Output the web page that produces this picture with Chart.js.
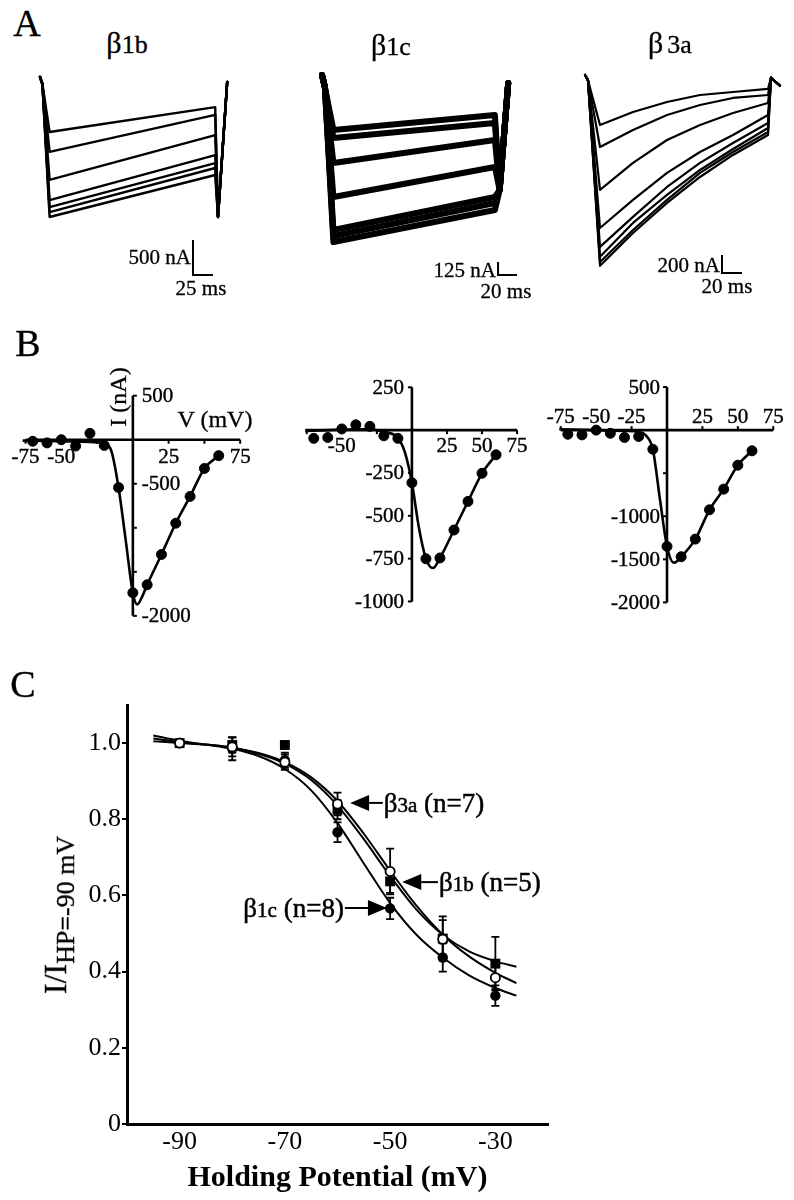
<!DOCTYPE html>
<html>
<head>
<meta charset="utf-8">
<script src="https://cdn.jsdelivr.net/npm/chart.js@4.4.1/dist/chart.umd.min.js"></script>
<style>
  html,body{margin:0;padding:0;background:#fff;}
  #page{position:relative;width:794px;height:1200px;overflow:hidden;background:#fff;font-family:"Liberation Serif","Times New Roman",serif;color:#000;}
  #page canvas{position:absolute;}
  .lbl{position:absolute;white-space:nowrap;line-height:1;transform:translate(-50%,-50%);-webkit-text-stroke:0.3px #000;}
  .lblR{position:absolute;white-space:nowrap;line-height:1;transform:translate(-100%,-50%);-webkit-text-stroke:0.3px #000;}
</style>
</head>
<body>
<div id="page">
  <canvas id="a1" style="left:20px;top:60px" width="220" height="240"></canvas>
  <canvas id="a2" style="left:300px;top:60px" width="230" height="240"></canvas>
  <canvas id="a3" style="left:560px;top:60px" width="230" height="240"></canvas>
  <canvas id="b1" style="left:0px;top:360px" width="260" height="280"></canvas>
  <canvas id="b2" style="left:280px;top:360px" width="260" height="280"></canvas>
  <canvas id="b3" style="left:540px;top:360px" width="254" height="280"></canvas>
  <canvas id="c1" style="left:0px;top:680px" width="590" height="520"></canvas>

  <div class="lbl" style="left:27px;top:23px;font-size:38px">A</div>
  <div class="lbl" style="left:28px;top:343px;font-size:38px">B</div>
  <div class="lbl" style="left:23px;top:684px;font-size:38px">C</div>

  <div class="lbl" style="left:127px;top:43px;font-size:30px">β<span style="font-size:26px">1b</span></div>
  <div class="lbl" style="left:391px;top:45px;font-size:30px">β<span style="font-size:26px">1c</span></div>
  <div class="lbl" style="left:670px;top:43px;font-size:30px">β<span style="font-size:26px;margin-left:4px">3a</span></div>

  <div class="lblR" style="left:191px;top:257px;font-size:21px">500 nA</div>
  <div class="lbl" style="left:201px;top:288px;font-size:21px">25 ms</div>
  <div class="lblR" style="left:496px;top:270px;font-size:21px">125 nA</div>
  <div class="lbl" style="left:506px;top:291px;font-size:21px">20 ms</div>
  <div class="lblR" style="left:720px;top:265px;font-size:21px">200 nA</div>
  <div class="lbl" style="left:727px;top:286px;font-size:21px">20 ms</div>

  <div class="lbl" style="left:118px;top:397px;font-size:24px;transform:translate(-50%,-50%) rotate(-90deg)">I (nA)</div>
  <div class="lbl" style="left:215px;top:419px;font-size:24px">V (mV)</div>

  <div class="lbl" style="left:55px;top:915px;font-size:32px;transform:translate(-50%,-50%) rotate(-90deg)">I/I<span style="font-size:26px;position:relative;top:0.3em">HP=-90 mV</span></div>
</div>

<script>
// ================= DATA =================
// Panel A: current traces (time in ms, current in nA)
const tA1 = [0, 3, 12, 219, 222.5, 234];                 // beta1b
const iA1 = [
  [0, -100, -786, -430, -2000, -70],
  [0, -100, -1070, -540, -2000, -70],
  [0, -100, -1470, -830, -2000, -70],
  [0, -100, -1760, -1115, -2000, -70],
  [0, -100, -1860, -1230, -2000, -70],
  [0, -100, -1930, -1300, -2000, -70],
  [0, -100, -2000, -1400, -2000, -70]
];
const tA2 = [0, 3, 12, 182, 187, 196];                   // beta1c
const iA2 = [
  [48, -67, -480, -336, -1058, -29],
  [48, -67, -557, -413, -1058, -29],
  [48, -67, -798, -577, -1058, -29],
  [48, -67, -1125, -836, -1058, -29],
  [48, -67, -1442, -1125, -1058, -29],
  [48, -67, -1500, -1183, -1058, -29],
  [48, -67, -1558, -1250, -1058, -29]
];
const tA3 = [0, 3, 15, 48, 82, 115, 148, 183, 186, 195]; // beta3a
const iA3 = [
  [0, -60, -555, -411, -300, -222, -189, -155, -30, -120],
  [0, -60, -800, -611, -444, -333, -255, -222, -30, -120],
  [0, -60, -1277, -977, -722, -555, -422, -311, -30, -120],
  [0, -60, -1700, -1388, -1088, -855, -666, -444, -30, -120],
  [0, -60, -1910, -1577, -1244, -977, -755, -533, -30, -120],
  [0, -60, -2020, -1644, -1333, -1055, -822, -589, -30, -120],
  [0, -60, -2077, -1722, -1388, -1088, -855, -633, -30, -120],
  [0, -60, -2120, -1755, -1422, -1133, -888, -666, -30, -120]
];
const scaleBarNA = [500, 125, 200];   // nA
const scaleBarMS = [25, 20, 20];      // ms

// Panel B: I-V relations (mV, nA)
const ivV = [-70, -60, -50, -40, -30, -20, -10, 0, 10, 20, 30, 40, 50, 60];
const ivB1b = [-18, -36, 0, -72, 72, -65, -543, -1738, -1647, -1303, -948, -644, -326, -181];
const ivB1c = [-48, -43, 7, 31, 22, -33, -48, -307, -751, -746, -583, -416, -252, -144];
const ivB3a = [-48, -55, 0, -37, -85, -74, -222, -1350, -1470, -1265, -925, -685, -407, -240];
const fitB1bV = [-77, -60, -40, -25, -20, -15, -10, -5, 0, 3, 6, 10, 20, 30, 40, 50, 60];
const fitB1bI = [-10, -15, -20, -30, -40, -130, -543, -1140, -1740, -1870, -1800, -1647, -1303, -948, -644, -326, -181];
const fitB1cV = [-76, -60, -40, -30, -20, -10, -5, 0, 5, 10, 15, 20, 30, 40, 50, 60];
const fitB1cI = [-5, 0, 5, 5, -10, -45, -130, -307, -570, -750, -805, -746, -583, -416, -252, -144];
const fitB3aV = [-76, -50, -30, -20, -15, -10, -5, 0, 5, 10, 20, 30, 40, 50, 60];
const fitB3aI = [10, 0, -10, -20, -60, -222, -800, -1350, -1540, -1470, -1265, -925, -685, -407, -240];
const b1XTicks = [-75, -50, -25, 25, 50, 75], b1XLabels = [-75, -50, 25, 75];
const b1YTicks = [500, -500, -1000, -1500, -2000], b1YLabels = [500, -500, -2000];
const b2XTicks = [-75, -50, -25, 25, 50, 75], b2XLabels = [-50, 25, 50, 75];
const b2YTicks = [250, -250, -500, -750, -1000], b2YLabels = [250, -250, -500, -750, -1000];
const b3XTicks = [-75, -50, -25, 25, 50, 75], b3XLabels = [-75, -50, -25, 25, 50, 75];
const b3YTicks = [500, -500, -1000, -1500, -2000], b3YLabels = [500, -1000, -1500, -2000];

// Panel C: steady-state inactivation
const hpV = [-90, -80, -70, -60, -50, -40, -30];
const hpB1b = [1.0, 0.99, 0.95, 0.84, 0.663, 0.485, 0.384];
const errB1b = [0.005, 0.025, 0.02, 0.03, 0.06, 0.05, 0.03];
const hpB3a = [1.0, 0.995, 0.995, 0.825, 0.637, 0.487, 0.421];
const errB3a = [0.005, 0.02, 0.005, 0.025, 0.03, 0.058, 0.07];
const hpB1c = [1.0, 0.985, 0.955, 0.766, 0.566, 0.437, 0.337];
const errB1c = [0.005, 0.03, 0.02, 0.026, 0.028, 0.037, 0.027];
const fitV = [-95, -90, -85, -80, -75, -70, -65, -60, -55, -50, -45, -40, -35, -30, -26];
const fitB1b = [1.005, 1.0, 0.996, 0.988, 0.974, 0.95, 0.91, 0.848, 0.762, 0.665, 0.573, 0.497, 0.44, 0.397, 0.37];
const fitB3a = [1.012, 1.003, 0.996, 0.988, 0.972, 0.946, 0.903, 0.836, 0.748, 0.651, 0.563, 0.497, 0.453, 0.427, 0.413];
const fitB1c = [1.02, 1.006, 0.996, 0.985, 0.966, 0.932, 0.876, 0.79, 0.684, 0.58, 0.497, 0.437, 0.39, 0.357, 0.337];
const cXTicks = [-90, -70, -50, -30];
const cYTicks = [0, 0.2, 0.4, 0.6, 0.8, 1.0];

// ================= RENDER =================
const FONT = '"Liberation Serif", "Times New Roman", serif';
Chart.defaults.font.family = FONT;
Chart.defaults.color = '#000';
const pts = (xs, ys) => xs.map((v, i) => ({x: v, y: ys[i]}));

function baseOpts(xr, yr) {
  return {
    responsive: false, animation: false, events: [],
    layout: {padding: 0},
    plugins: {legend: {display: false}, tooltip: {enabled: false}},
    scales: {
      x: {type: 'linear', display: false, min: xr[0], max: xr[1]},
      y: {type: 'linear', display: false, min: yr[0], max: yr[1]}
    }
  };
}

function traceChart(id, tArr, traces, lw, xr, yr, bar) {
  const ds = traces.map(tr => ({
    data: pts(tArr, tr), borderColor: '#000', borderWidth: lw, pointRadius: 0,
    fill: false, tension: 0, borderJoinStyle: 'round', borderCapStyle: 'round'
  }));
  ds.push({
    data: [{x: bar.t, y: bar.i + bar.nA}, {x: bar.t, y: bar.i}, {x: bar.t + bar.ms, y: bar.i}],
    borderColor: '#000', borderWidth: 2, pointRadius: 0, fill: false, tension: 0
  });
  new Chart(document.getElementById(id), {type: 'line', data: {datasets: ds}, options: baseOpts(xr, yr)});
}

traceChart('a1', tA1, iA1, 2.4, [-25, 250], [-3186, 243], {t: 191.25, i: -2829, nA: scaleBarNA[0], ms: scaleBarMS[0]});
traceChart('a2', tA2, iA2, 6, [-23.16, 218.95], [-2115.4, 192.3], {t: 185.3, i: -1875, nA: scaleBarNA[1], ms: scaleBarMS[1]});
traceChart('a3', tA3, iA3, 2.2, [-25, 205], [-2500, 166.7], {t: 137, i: -2200, nA: scaleBarNA[2], ms: scaleBarMS[2]});

function makeIvAxes(spec) {
  return {
    id: 'ivAxes',
    beforeDatasetsDraw(chart) {
      const {ctx, scales: {x, y}} = chart;
      const x0 = x.getPixelForValue(0), y0 = y.getPixelForValue(0);
      ctx.save();
      ctx.strokeStyle = '#000'; ctx.fillStyle = '#000'; ctx.lineWidth = 2.6;
      ctx.beginPath();
      ctx.moveTo(x.getPixelForValue(spec.xRange[0]), y0); ctx.lineTo(x.getPixelForValue(spec.xRange[1]), y0);
      ctx.moveTo(x0, y.getPixelForValue(spec.yRange[1])); ctx.lineTo(x0, y.getPixelForValue(spec.yRange[0]));
      ctx.stroke();
      ctx.lineWidth = 2;
      const xs = spec.xSide === 'above' ? -1 : 1;
      spec.xTicks.forEach(v => { const p = x.getPixelForValue(v); ctx.beginPath(); ctx.moveTo(p, y0); ctx.lineTo(p, y0 + xs * 4); ctx.stroke(); });
      const ys = spec.ySide === 'right' ? 1 : -1;
      spec.yTicks.forEach(v => { const p = y.getPixelForValue(v); ctx.beginPath(); ctx.moveTo(x0, p); ctx.lineTo(x0 + ys * 4, p); ctx.stroke(); });
      ctx.font = '21px ' + FONT; ctx.textBaseline = 'middle'; ctx.textAlign = 'center';
      ctx.lineWidth = 0.4;
      const txt = (s, px, py) => { ctx.fillText(s, px, py); ctx.strokeText(s, px, py); };
      spec.xLabels.forEach(v => txt(String(v), x.getPixelForValue(v), y0 + xs * spec.xOff));
      ctx.textAlign = ys > 0 ? 'left' : 'right';
      spec.yLabels.forEach(v => txt(String(v), x0 + ys * spec.yOff, y.getPixelForValue(v) + 1));
      ctx.restore();
    }
  };
}

function ivChart(id, V, I, fV, fI, xr, yr, spec) {
  new Chart(document.getElementById(id), {
    type: 'line',
    data: {datasets: [
      {data: pts(V, I), showLine: false, pointRadius: 5, pointBackgroundColor: '#000', pointBorderColor: '#000', pointBorderWidth: 1},
      {data: pts(fV, fI), borderColor: '#000', borderWidth: 2.6, pointRadius: 0, fill: false, cubicInterpolationMode: 'monotone'}
    ]},
    options: baseOpts(xr, yr),
    plugins: [makeIvAxes(spec)]
  });
}

ivChart('b1', ivV, ivB1b, fitB1bV, fitB1bI, [-88.67, 84.67], [-2206, 837],
  {xRange: [-75, 75], yRange: [-2000, 500], xTicks: b1XTicks, xLabels: b1XLabels, xSide: 'below', xOff: 18,
   yTicks: b1YTicks, yLabels: b1YLabels, ySide: 'right', yOff: 9});
ivChart('b2', ivV, ivB1c, fitB1cV, fitB1cI, [-89.8, 87.07], [-1189.9, 374.3],
  {xRange: [-76, 75], yRange: [-1000, 250], xTicks: b2XTicks, xLabels: b2XLabels, xSide: 'below', xOff: 16,
   yTicks: b2YTicks, yLabels: b2YLabels, ySide: 'left', yOff: 8});
ivChart('b3', ivV, ivB3a, fitB3aV, fitB3aI, [-85.41, 85.41], [-2366.7, 744.4],
  {xRange: [-75, 75], yRange: [-2000, 500], xTicks: b3XTicks, xLabels: b3XLabels, xSide: 'above', xOff: 13,
   yTicks: b3YTicks, yLabels: b3YLabels, ySide: 'left', yOff: 7});

// ---- Panel C ----
const errSets = [{y: hpB1b, e: errB1b}, {y: hpB3a, e: errB3a}, {y: hpB1c, e: errB1c}];
const cErr = {
  id: 'cErr',
  beforeDatasetsDraw(chart) {
    const {ctx, scales: {x, y}} = chart;
    ctx.save(); ctx.strokeStyle = '#000'; ctx.lineWidth = 1.8;
    errSets.forEach(s => hpV.forEach((v, i) => {
      const px = x.getPixelForValue(v);
      const a = y.getPixelForValue(s.y[i] + s.e[i]), b = y.getPixelForValue(s.y[i] - s.e[i]);
      ctx.beginPath();
      ctx.moveTo(px, a); ctx.lineTo(px, b);
      ctx.moveTo(px - 4, a); ctx.lineTo(px + 4, a);
      ctx.moveTo(px - 4, b); ctx.lineTo(px + 4, b);
      ctx.stroke();
    }));
    ctx.restore();
  }
};
const annotations = [
  {parts: [['β', 27], ['3a', 21], [' (n=7)', 27]], tip: [-57.6, 0.843], tail: -51.4},
  {parts: [['β', 27], ['1b', 21], [' (n=5)', 27]], tip: [-47.7, 0.635], tail: -40.9},
  {parts: [['β', 27], ['1c', 21], [' (n=8)', 27]], tip: [-50.6, 0.567], tail: -58.6}
];
const cAnnot = {
  id: 'cAnnot',
  afterDatasetsDraw(chart) {
    const {ctx, scales: {x, y}} = chart;
    ctx.save(); ctx.fillStyle = '#000'; ctx.strokeStyle = '#000'; ctx.lineWidth = 2;
    annotations.forEach(a => {
      const tx = x.getPixelForValue(a.tip[0]), ty = y.getPixelForValue(a.tip[1]);
      const tl = x.getPixelForValue(a.tail);
      const dir = tl > tx ? 1 : -1;
      const hl = 19, hh = 8;
      ctx.lineWidth = 2;
      ctx.beginPath(); ctx.moveTo(tx, ty); ctx.lineTo(tx + dir * hl, ty - hh); ctx.lineTo(tx + dir * hl, ty + hh); ctx.closePath(); ctx.fill();
      ctx.beginPath(); ctx.moveTo(tx + dir * hl, ty); ctx.lineTo(tl, ty); ctx.stroke();
      let w = 0;
      a.parts.forEach(p => { ctx.font = p[1] + 'px ' + FONT; w += ctx.measureText(p[0]).width; });
      let cx = dir > 0 ? tl + 1 : tl - 1 - w;
      ctx.textBaseline = 'alphabetic'; ctx.textAlign = 'left'; ctx.lineWidth = 0.5;
      a.parts.forEach(p => { ctx.font = p[1] + 'px ' + FONT; ctx.fillText(p[0], cx, ty + 9); ctx.strokeText(p[0], cx, ty + 9); cx += ctx.measureText(p[0]).width; });
    });
    ctx.restore();
  }
};

new Chart(document.getElementById('c1'), {
  type: 'line',
  data: {datasets: [
    {data: pts(hpV, hpB1b), showLine: false, pointStyle: 'circle', pointRadius: 4.6, pointBackgroundColor: '#fff', pointBorderColor: '#000', pointBorderWidth: 1.8},
    {data: pts(hpV, hpB3a), showLine: false, pointStyle: 'rect', pointRadius: 7, pointBackgroundColor: '#000', pointBorderColor: '#000', pointBorderWidth: 0},
    {data: pts(hpV, hpB1c), showLine: false, pointStyle: 'circle', pointRadius: 5.2, pointBackgroundColor: '#000', pointBorderColor: '#000', pointBorderWidth: 0},
    {data: pts(fitV, fitB1b), borderColor: '#000', borderWidth: 2, pointRadius: 0, fill: false, cubicInterpolationMode: 'monotone'},
    {data: pts(fitV, fitB3a), borderColor: '#000', borderWidth: 2, pointRadius: 0, fill: false, cubicInterpolationMode: 'monotone'},
    {data: pts(fitV, fitB1c), borderColor: '#000', borderWidth: 2, pointRadius: 0, fill: false, cubicInterpolationMode: 'monotone'}
  ]},
  options: {
    responsive: false, animation: false, events: [],
    layout: {padding: {left: 0, right: 42, top: 25, bottom: 0}},
    plugins: {legend: {display: false}, tooltip: {enabled: false}},
    scales: {
      x: {
        type: 'linear', min: -100, max: -20,
        afterBuildTicks: s => { s.ticks = cXTicks.map(v => ({value: v})); },
        afterFit: s => { s.height = 76; },
        grid: {display: true, drawOnChartArea: false, drawTicks: false},
        border: {display: true, color: '#000', width: 3},
        ticks: {color: '#000', font: {family: FONT, size: 26}, padding: 3, callback: v => String(v)},
        title: {display: true, text: 'Holding Potential (mV)', color: '#000', font: {family: FONT, size: 30, weight: 'bold'}, padding: {top: 0, bottom: 4}}
      },
      y: {
        type: 'linear', min: 0, max: 1.1,
        afterBuildTicks: s => { s.ticks = cYTicks.map(v => ({value: v})); },
        afterFit: s => { s.width = 127; },
        grid: {display: true, drawOnChartArea: false, drawTicks: true, tickLength: 5, color: '#000', lineWidth: 2},
        border: {display: true, color: '#000', width: 3},
        ticks: {color: '#000', font: {family: FONT, size: 26}, padding: 1, callback: v => (v === 0 ? '0' : v.toFixed(1))}
      }
    }
  },
  plugins: [cErr, cAnnot]
});
</script>
</body>
</html>
